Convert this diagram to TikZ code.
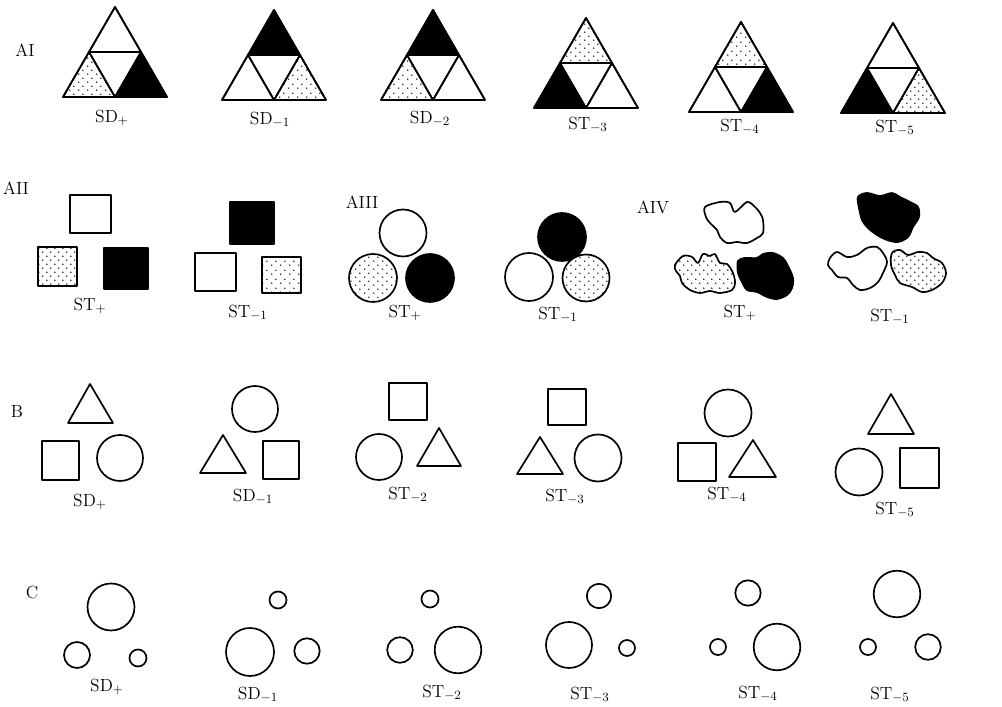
\documentclass[tikz,border=0pt]{standalone}
\usepackage{tikz}
\usetikzlibrary{patterns}

\pgfdeclarepatternformonly{stipple}{\pgfqpoint{0pt}{0pt}}{\pgfqpoint{6pt}{6pt}}{\pgfqpoint{6pt}{6pt}}{%
  \pgfpathcircle{\pgfqpoint{1.3pt}{1.4pt}}{0.6pt}
  \pgfpathcircle{\pgfqpoint{4.4pt}{4.3pt}}{0.6pt}
  \pgfusepath{fill}}

% big triangle cut in four, base centre #1, fills of top, left, right part
\newcommand{\splittri}[4]{%
  \begin{scope}[shift={#1}]
    \filldraw[#2] (0,-90) -- (-26,-45) -- (26,-45) -- cycle;
    \filldraw[#3] (-26,-45) -- (-52,0) -- (0,0) -- cycle;
    \filldraw[#4] (26,-45) -- (0,0) -- (52,0) -- cycle;
    \draw (-26,-45) -- (0,0) -- (26,-45) -- cycle;
    \draw (0,-90) -- (-52,0) -- (52,0) -- cycle;
  \end{scope}}

\begin{document}
\begin{tikzpicture}[x=0.025cm,y=-0.025cm,line width=1.2pt,line join=round]
\tikzstyle{paperfill}=[fill=white]
\tikzstyle{dotfill}=[pattern=stipple]
\tikzstyle{inkfill}=[fill=black]
\tikzstyle{tag}=[font=\fontsize{12.5}{15}\selectfont,inner sep=1pt]
\tikzstyle{rowtag}=[font=\fontsize{12.5}{15}\selectfont,inner sep=1pt]
\tikzstyle{blob}=[smooth cycle,tension=0.55]
\fill[white] (0,0) rectangle (1002,707);
\useasboundingbox (0,0) rectangle (1002,707);

% row AI
\node[rowtag] (rAI) at (25,50) {AI};
\splittri{(115,97)}{paperfill}{dotfill}{inkfill}
\splittri{(274,100)}{inkfill}{paperfill}{dotfill}
\splittri{(433,100)}{inkfill}{dotfill}{paperfill}
\splittri{(586,108)}{dotfill}{inkfill}{paperfill}
\splittri{(741,112)}{dotfill}{paperfill}{inkfill}
\splittri{(893,113)}{paperfill}{inkfill}{dotfill}
\node[tag] (ai1) at (112,118) {SD$_{+}$};
\node[tag] (ai2) at (270,120) {SD$_{-1}$};
\node[tag] (ai3) at (430,119) {SD$_{-2}$};
\node[tag] (ai4) at (588,125) {ST$_{-3}$};
\node[tag] (ai5) at (740,127) {ST$_{-4}$};
\node[tag] (ai6) at (895,128) {ST$_{-5}$};

% row AII
\node[rowtag] (rAII) at (16,188) {AII};
\filldraw[paperfill] (70,195) rectangle (111,233);
\filldraw[dotfill] (38,247) rectangle (77,286);
\filldraw[inkfill] (104,248) rectangle (148,289);
\node[tag] (aii1) at (90,306) {ST$_{+}$};
\filldraw[inkfill] (230,202) rectangle (274,244);
\filldraw[paperfill] (195,253) rectangle (236,291);
\filldraw[dotfill] (262,257) rectangle (301,293);
\node[tag] (aii2) at (248,313) {ST$_{-1}$};

% row AIII
\node[rowtag] (rAIII) at (362,202) {AIII};
\filldraw[paperfill] (403,233) circle (23.5);
\filldraw[dotfill] (373,278) circle (24);
\filldraw[inkfill] (430,278) circle (24);
\node[tag] (aiii1) at (405,313) {ST$_{+}$};
\filldraw[inkfill] (562,237) circle (24);
\filldraw[paperfill] (529,277) circle (24);
\filldraw[dotfill] (586,278) circle (23.5);
\node[tag] (aiii2) at (558,315) {ST$_{-1}$};

% row AIV
\node[rowtag] (rAIV) at (653,207) {AIV};
\filldraw[paperfill] plot[blob] coordinates {(705,207) (720,202) (730,203) (735,212) (747,202) (755,207) (760,213) (763,220) (763,233) (757,238) (747,243) (737,242) (727,243) (720,237) (717,230) (710,223) (706,217)};
\filldraw[dotfill] plot[blob] coordinates {(675,265) (683,256) (692,257) (698,263) (703,254) (710,256) (715,254) (720,263) (727,264) (733,273) (735,283) (732,290) (720,293) (710,291) (700,293) (690,290) (682,283) (680,276) (676,271)};
\filldraw[inkfill] plot[blob] coordinates {(738,261) (745,258) (757,258) (763,254) (773,253) (783,258) (788,266) (793,278) (792,288) (787,295) (777,299) (767,297) (757,292) (747,290) (742,282) (738,273)};
\node[tag] (aiv1) at (740,313) {ST$_{+}$};
\filldraw[inkfill] plot[blob] coordinates {(858,197) (867,193) (880,196) (892,193) (900,197) (910,202) (918,207) (919,217) (913,227) (908,237) (898,242) (887,240) (877,235) (868,228) (862,220) (859,208)};
\filldraw[paperfill] plot[blob] coordinates {(830,258) (837,252) (847,257) (857,255) (867,248) (877,247) (883,253) (887,262) (883,273) (878,282) (870,288) (860,290) (853,285) (847,278) (838,277) (832,270) (828,265)};
\filldraw[dotfill] plot[blob] coordinates {(892,253) (900,250) (908,255) (918,252) (927,253) (933,258) (942,263) (946,273) (942,283) (932,290) (922,292) (912,287) (900,283) (895,275) (891,265)};
\node[tag] (aiv2) at (890,317) {ST$_{-1}$};

% row B
\node[rowtag] (rB) at (17,412) {B};
\draw (68,423) -- (90,384) -- (113,423) -- cycle;
\draw (42,441) rectangle (79,480);
\draw (120,458) circle (23);
\node[tag] (b1) at (90,502) {SD$_{+}$};
\draw (255,409) circle (23);
\draw (200,473) -- (223,435) -- (246,473) -- cycle;
\draw (263,441) rectangle (299,479);
\node[tag] (b2) at (253,497) {SD$_{-1}$};
\draw (389,383) rectangle (427,420);
\draw (379,457) circle (23);
\draw (417,466) -- (439,428) -- (461,466) -- cycle;
\node[tag] (b3) at (408,495) {ST$_{-2}$};
\draw (548,389) rectangle (586,425);
\draw (517,474) -- (540,437) -- (563,474) -- cycle;
\draw (598,458) circle (23.5);
\node[tag] (b4) at (565,497) {ST$_{-3}$};
\draw (728,413) circle (23.5);
\draw (678,443) rectangle (716,481);
\draw (729,477) -- (753,440) -- (776,477) -- cycle;
\node[tag] (b5) at (727,495) {ST$_{-4}$};
\draw (868,434) -- (891,394) -- (914,434) -- cycle;
\draw (859,472) circle (23.5);
\draw (900,448) rectangle (939,488);
\node[tag] (b6) at (895,510) {ST$_{-5}$};

% row C
\node[rowtag] (rC) at (32,592) {C};
\draw (111,607) circle (23.5);
\draw (77,655) circle (13);
\draw (138,658) circle (8.5);
\node[tag] (c1) at (107,687) {SD$_{+}$};
\draw (278,600) circle (8.5);
\draw (250,652) circle (24);
\draw (307,651) circle (12.7);
\node[tag] (c2) at (258,695) {SD$_{-1}$};
\draw (430,599) circle (8.5);
\draw (400,650) circle (12.8);
\draw (458,650) circle (23.3);
\node[tag] (c3) at (442,693) {ST$_{-2}$};
\draw (599,596) circle (12.2);
\draw (569,645) circle (23);
\draw (627,648) circle (8);
\node[tag] (c4) at (590,695) {ST$_{-3}$};
\draw (748,593) circle (12.7);
\draw (718,647) circle (8);
\draw (777,647) circle (23.3);
\node[tag] (c5) at (758,694) {ST$_{-4}$};
\draw (897,594) circle (23.3);
\draw (868,647) circle (8);
\draw (928,647) circle (12.8);
\node[tag] (c6) at (890,695) {ST$_{-5}$};
\end{tikzpicture}
\end{document}
